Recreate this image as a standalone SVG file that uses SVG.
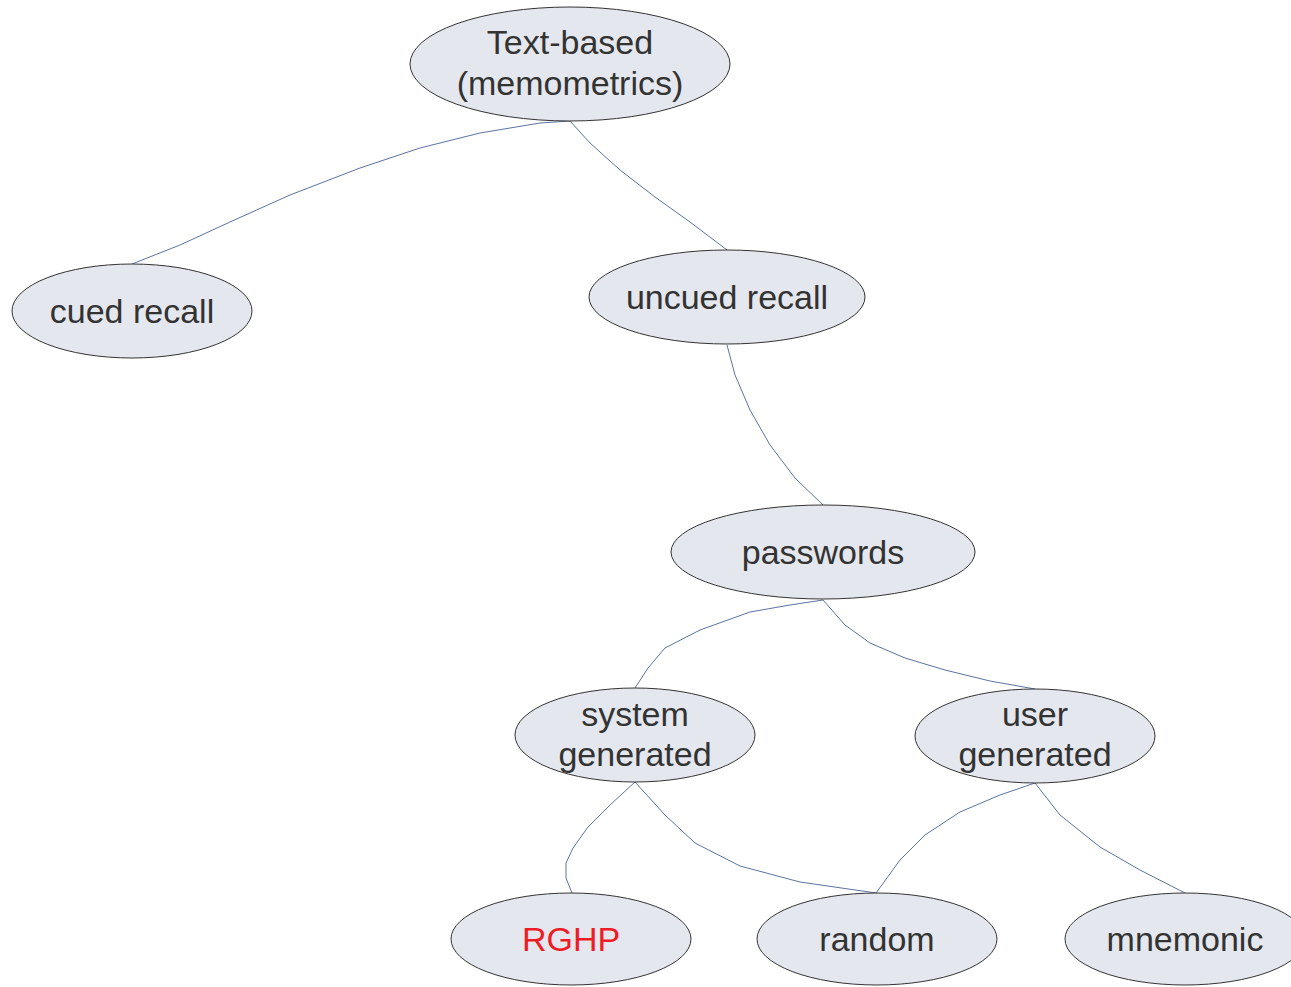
<svg xmlns="http://www.w3.org/2000/svg" width="1291" height="987" viewBox="0 0 1291 987">
  <style>
    .node ellipse { fill: #e4e7ee; stroke: #333333; stroke-width: 1; }
    .node text { font-family: "Liberation Sans", Arial, sans-serif; font-size: 34px; fill: #333333; text-anchor: middle; }
    .node text.hl { fill: #ee1c25; }
    .edges path { fill: none; stroke: #5b74a1; stroke-width: 1; stroke-linejoin: round; }
  </style>
  <rect width="1291" height="987" fill="#ffffff"/>

  <g class="edges">
    <path d="M570,121 L540,123 L480,133 L420,148 L360,168 L290,195 L230,222 L180,245 L132,264"/>
    <path d="M570,121 L590,143 L620,170 L655,197 L690,222 L727,250"/>
    <path d="M727,345 L735,375 L750,410 L770,445 L795,478 L823,505"/>
    <path d="M823,600 L790,605 L750,612 L700,630 L665,648 L648,668 L635,688"/>
    <path d="M823,600 L845,625 L870,643 L905,658 L945,670 L990,681 L1035,689"/>
    <path d="M635,782 L610,805 L588,827 L573,848 L566,863 L566,878 L572,893"/>
    <path d="M635,782 L665,815 L695,843 L740,866 L800,882 L876,893"/>
    <path d="M1035,783 L1000,795 L960,812 L925,835 L900,860 L876,893"/>
    <path d="M1035,783 L1060,815 L1100,847 L1140,870 L1185,893"/>
  </g>

  <g id="n-text-based" class="node">
    <ellipse cx="570" cy="64" rx="160" ry="57"/>
    <text x="570" y="54">Text-based</text>
    <text x="570" y="95">(memometrics)</text>
  </g>
  <g id="n-cued-recall" class="node">
    <ellipse cx="132" cy="311" rx="120" ry="47"/>
    <text x="132" y="323">cued recall</text>
  </g>
  <g id="n-uncued-recall" class="node">
    <ellipse cx="727" cy="297" rx="138" ry="47"/>
    <text x="727" y="309">uncued recall</text>
  </g>
  <g id="n-passwords" class="node">
    <ellipse cx="823" cy="552" rx="152" ry="47"/>
    <text x="823" y="564">passwords</text>
  </g>
  <g id="n-system-generated" class="node">
    <ellipse cx="635" cy="735" rx="120" ry="47"/>
    <text x="635" y="726">system</text>
    <text x="635" y="766">generated</text>
  </g>
  <g id="n-user-generated" class="node">
    <ellipse cx="1035" cy="736" rx="120" ry="47"/>
    <text x="1035" y="726">user</text>
    <text x="1035" y="766">generated</text>
  </g>
  <g id="n-rghp" class="node">
    <ellipse cx="571" cy="939" rx="120" ry="46"/>
    <text class="hl" x="571" y="951">RGHP</text>
  </g>
  <g id="n-random" class="node">
    <ellipse cx="877" cy="939" rx="120" ry="46"/>
    <text x="877" y="951">random</text>
  </g>
  <g id="n-mnemonic" class="node">
    <ellipse cx="1185" cy="939" rx="120" ry="46"/>
    <text x="1185" y="951">mnemonic</text>
  </g>
</svg>
